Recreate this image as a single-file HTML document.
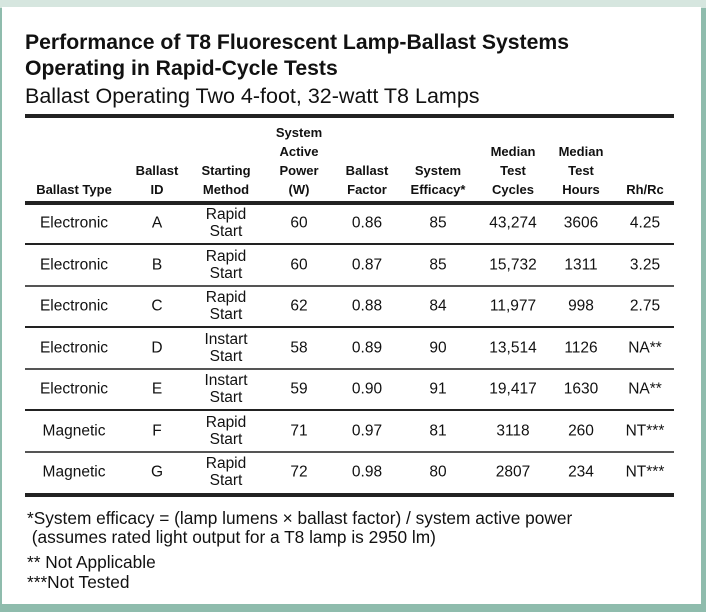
<!DOCTYPE html>
<html><head><style>
body{margin:0;width:706px;height:612px;background:#8fbcad;position:relative;overflow:hidden;font-family:"Liberation Sans",sans-serif;color:#111}
#top{position:absolute;left:0;top:0;width:706px;height:8px;background:#d6e6df}
#panel{position:absolute;left:2px;top:7px;width:699px;height:597px;background:#fff}
.t{position:absolute;white-space:nowrap}
.h{position:absolute;font-weight:bold;font-size:13px;line-height:19px;text-align:center;transform:translateX(-50%);white-space:nowrap}
.c{position:absolute;font-size:15.5px;text-align:center;transform:translate(-50%,-50%);line-height:17px;white-space:nowrap}
.ln{position:absolute;left:25px;width:649px;background:#222}
</style></head><body>
<div id="top"></div><div id="panel"></div>
<div class="t" style="left:25px;top:30px;font-size:21.2px;font-weight:bold;line-height:26px">Performance of T8 Fluorescent Lamp-Ballast Systems<br>Operating in Rapid-Cycle Tests</div>
<div class="t" style="left:25px;top:83px;font-size:21.5px;line-height:26px">Ballast Operating Two 4-foot, 32-watt T8 Lamps</div>
<div class="ln" style="top:114px;height:4px"></div>
<div class="h" style="left:74px;top:180px">Ballast Type</div>
<div class="h" style="left:157px;top:161px">Ballast<br>ID</div>
<div class="h" style="left:226px;top:161px">Starting<br>Method</div>
<div class="h" style="left:299px;top:123px">System<br>Active<br>Power<br>(W)</div>
<div class="h" style="left:367px;top:161px">Ballast<br>Factor</div>
<div class="h" style="left:438px;top:161px">System<br>Efficacy*</div>
<div class="h" style="left:513px;top:142px">Median<br>Test<br>Cycles</div>
<div class="h" style="left:581px;top:142px">Median<br>Test<br>Hours</div>
<div class="h" style="left:645px;top:180px">Rh/Rc</div>
<div class="ln" style="top:201px;height:4px"></div>
<div id="rows"></div>
<div class="ln" style="top:493px;height:4px"></div>
<div class="t" style="left:27px;top:509px;font-size:17.3px;line-height:19px">*System efficacy = (lamp lumens × ballast factor) / system active power<br>&nbsp;(assumes rated light output for a T8 lamp is 2950 lm)</div>
<div class="t" style="left:27px;top:552px;font-size:17.3px;line-height:20px">** Not Applicable<br>***Not Tested</div>
<script>
var d=[["Electronic","A","Rapid<br>Start","60","0.86","85","43,274","3606","4.25"],
["Electronic","B","Rapid<br>Start","60","0.87","85","15,732","1311","3.25"],
["Electronic","C","Rapid<br>Start","62","0.88","84","11,977","998","2.75"],
["Electronic","D","Instart<br>Start","58","0.89","90","13,514","1126","NA**"],
["Electronic","E","Instart<br>Start","59","0.90","91","19,417","1630","NA**"],
["Magnetic","F","Rapid<br>Start","71","0.97","81","3118","260","NT***"],
["Magnetic","G","Rapid<br>Start","72","0.98","80","2807","234","NT***"]];
var xs=[74,157,226,299,367,438,513,581,645],h="";
for(var i=0;i<7;i++){var cy=223+i*41.5;
for(var j=0;j<9;j++)h+='<div class="c" style="left:'+xs[j]+'px;top:'+cy+'px">'+d[i][j]+'</div>';
if(i<6)h+='<div class="ln" style="top:'+(243+i*41.5)+'px;height:2px;background:'+(i%2?'#555':'#222')+'"></div>';}
document.getElementById('rows').innerHTML=h;
</script>
</body></html>
